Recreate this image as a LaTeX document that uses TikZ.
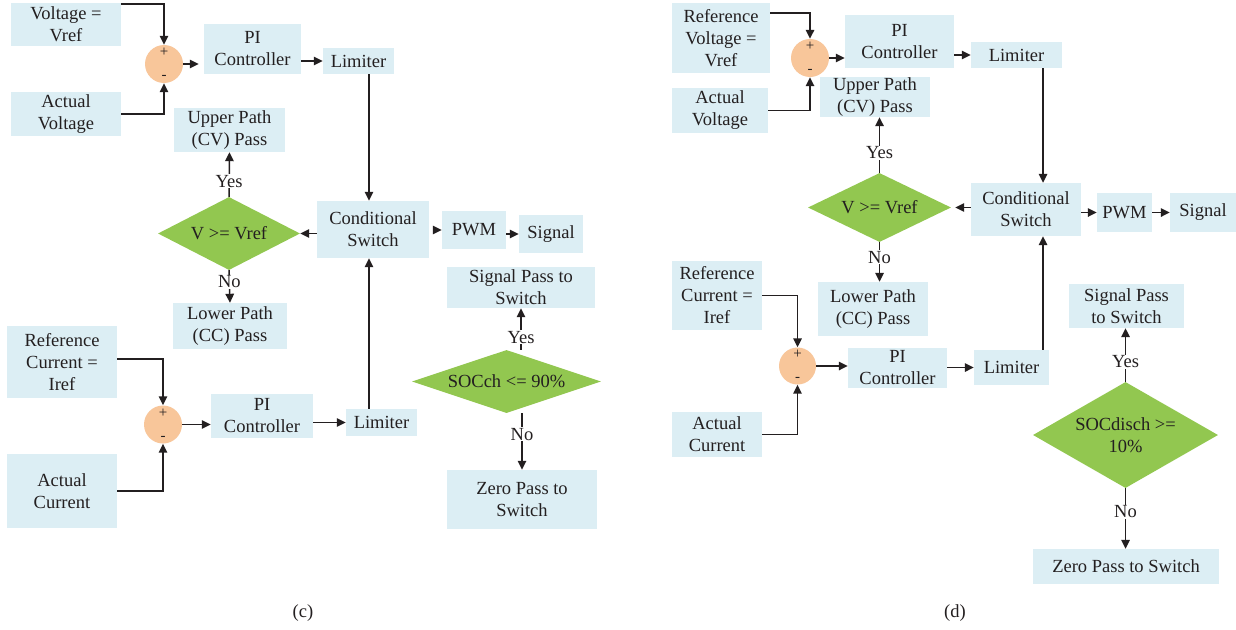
\documentclass[tikz,border=0pt]{standalone}
\usepackage{fontspec}
\setmainfont{Liberation Serif}
\usetikzlibrary{shapes.geometric,arrows.meta}
\definecolor{boxblue}{RGB}{220,238,244}
\definecolor{dgreen}{RGB}{146,199,80}
\definecolor{sumorange}{RGB}{248,198,154}
\definecolor{ink}{RGB}{35,31,32}
\begin{document}
\begin{tikzpicture}[x=1pt,y=-1pt,
  every node/.style={text=ink, font=\fontsize{18.5}{22}\selectfont},
  box/.style={fill=boxblue, inner sep=0pt, align=center},
  dec/.style={diamond, fill=dgreen, inner sep=0pt, align=center},
  sumc/.style={circle, fill=sumorange, inner sep=0pt, minimum size=38pt, align=center, font=\fontsize{15}{23}\selectfont},
  arr/.style={draw=ink, line width=1.5pt, -{Triangle[length=9pt,width=8.5pt]}},
  lab/.style={fill=white, inner sep=1pt}
]
\useasboundingbox[fill=white] (0,0) rectangle (1236,629);

% ---------------- panel (c) ----------------
\node[box, minimum width=110pt, minimum height=43pt] (vref1) at (66,24.5) {Voltage =\\Vref};
\node[sumc] (sum1) at (164,64) {+\\-};
\node[box, minimum width=97pt, minimum height=50pt] (pi1) at (252.5,49) {PI\\Controller};
\node[box, minimum width=71pt, minimum height=26pt] (lim1) at (358.5,61) {Limiter};
\node[box, minimum width=110pt, minimum height=44pt] (av1) at (66,114) {Actual\\Voltage};
\node[box, minimum width=111pt, minimum height=44pt] (up1) at (229.5,130) {Upper Path\\(CV) Pass};
\node[dec, minimum width=142pt, minimum height=73pt, aspect=1.95] (dia1) at (229,233.5) {V >= Vref};
\node[box, minimum width=112pt, minimum height=57pt] (cs1) at (373,229.5) {Conditional\\Switch};
\node[box, minimum width=64pt, minimum height=38pt] (pwm1) at (474,230) {PWM};
\node[box, minimum width=64pt, minimum height=38pt] (sig1) at (551,234) {Signal};
\node[box, minimum width=114pt, minimum height=46pt] (lp1) at (230,326) {Lower Path\\(CC) Pass};
\node[box, minimum width=148pt, minimum height=41pt] (sp1) at (521,287.5) {Signal Pass to\\Switch};
\node[dec, minimum width=189pt, minimum height=63pt, aspect=3] (soc1) at (506.5,381.5) {SOCch <= 90\%};
\node[box, minimum width=150pt, minimum height=59pt] (zp1) at (522,499.5) {Zero Pass to\\Switch};
\node[box, minimum width=110pt, minimum height=72pt] (rc1) at (62,362) {Reference\\Current =\\Iref};
\node[box, minimum width=110pt, minimum height=74pt] (ac1) at (62,491) {Actual\\Current};
\node[sumc] (sum2) at (163,424.5) {+\\-};
\node[box, minimum width=102pt, minimum height=44pt] (pi2) at (262,416) {PI\\Controller};
\node[box, minimum width=71pt, minimum height=27pt] (lim2) at (381.5,422.5) {Limiter};

\coordinate (cs1top) at ([xshift=-4pt]cs1.north);
\coordinate (cs1bot) at ([xshift=-4pt]cs1.south);

\draw[arr] ([yshift=20.5pt]vref1.east) -| (sum1.north);
\draw[arr] (av1.east) -| (sum1.south);
\draw[arr, shorten >=5pt] (sum1.east) -- (sum1.east -| pi1.west);
\draw[arr] (lim1.west -| pi1.east) -- (lim1.west);
\draw[arr] (lim1.south -| cs1top) -- (cs1top);
\draw[arr] (cs1.west |- dia1.east) -- (dia1.east);
\draw[arr, shorten <=5pt] (cs1.east |- pwm1.west) -- (pwm1.west);
\draw[arr] (sig1.west -| pwm1.east) -- (sig1.west);
\draw[arr] (dia1.north) -- node[lab, pos=0.35] {Yes} (up1.south);
\draw[arr] (dia1.south) -- node[lab, pos=0.36] {No} (lp1.north);
\draw[arr] (lim2.north -| cs1bot) -- (cs1bot);
\draw[arr] ([yshift=3pt]rc1.east) -| (sum2.north);
\draw[arr] (ac1.east) -| (sum2.south);
\draw[arr] (sum2.east) -- (sum2.east -| pi2.west);
\draw[arr] (pi2.east |- lim2.west) -- (lim2.west);
\draw[arr] (soc1.north -| sp1.south) -- node[lab, pos=0.3] {Yes} (sp1.south);
\draw[arr] (soc1.south -| zp1.north) -- node[lab, pos=0.37] {No} (zp1.north);

% ---------------- panel (d) ----------------
\node[box, minimum width=98pt, minimum height=70pt] (vref2) at (721,38) {Reference\\Voltage =\\Vref};
\node[sumc] (sum3) at (810,58) {+\\-};
\node[box, minimum width=109pt, minimum height=53pt] (pi3) at (899.5,41.5) {PI\\Controller};
\node[box, minimum width=91pt, minimum height=26pt] (lim3) at (1016.5,55) {Limiter};
\node[box, minimum width=96pt, minimum height=45pt] (av2) at (720,110.5) {Actual\\Voltage};
\node[box, minimum width=110pt, minimum height=40pt] (up2) at (875,97) {Upper Path\\(CV) Pass};
\node[dec, minimum width=143pt, minimum height=69pt, aspect=2.07] (dia2) at (879.5,207.5) {V >= Vref};
\node[box, minimum width=110pt, minimum height=53pt] (cs2) at (1026,209.5) {Conditional\\Switch};
\node[box, minimum width=55pt, minimum height=39pt] (pwm2) at (1124.5,212.5) {PWM};
\node[box, minimum width=66pt, minimum height=39pt] (sig2) at (1203,212.5) {Signal};
\node[box, minimum width=110pt, minimum height=54pt] (lp2) at (873,309) {Lower Path\\(CC) Pass};
\node[box, minimum width=115pt, minimum height=44pt] (sp2) at (1126.5,306) {Signal Pass\\to Switch};
\node[dec, minimum width=185pt, minimum height=106pt, aspect=1.75] (soc2) at (1125.5,435) {SOCdisch >=\\10\%};
\node[box, minimum width=186pt, minimum height=35pt] (zp2) at (1126,566.5) {Zero Pass to Switch};
\node[box, minimum width=90pt, minimum height=69pt] (rc2) at (717,295.5) {Reference\\Current =\\Iref};
\node[box, minimum width=90pt, minimum height=45pt] (ac2) at (717,434.5) {Actual\\Current};
\node[sumc, minimum size=37pt] (sum4) at (797.5,366) {+\\-};
\node[box, minimum width=99pt, minimum height=40pt] (pi4) at (897.5,368) {PI\\Controller};
\node[box, minimum width=75pt, minimum height=35pt] (lim4) at (1011.5,367.5) {Limiter};

\coordinate (cs2top) at ([xshift=17pt]cs2.north);
\coordinate (cs2bot) at ([xshift=17pt]cs2.south);

\draw[arr] ([yshift=25pt]vref2.east) -| (sum3.north);
\draw[arr] (av2.east) -| (sum3.south);
\draw[arr] (sum3.east) -- (sum3.east -| pi3.west);
\draw[arr] (pi3.east |- lim3.west) -- (lim3.west);
\draw[arr] (lim3.south -| cs2top) -- (cs2top);
\draw[arr, shorten >=4pt] (cs2.west |- dia2.east) -- (dia2.east);
\draw[arr] (cs2.east |- pwm2.west) -- (pwm2.west);
\draw[arr] (pwm2.east) -- (sig2.west);
\draw[arr] (dia2.north) -- node[lab, pos=0.36] {Yes} (dia2.north |- up2.south);
\draw[arr] (dia2.south) -- node[lab, pos=0.375] {No} (dia2.south |- lp2.north);
\draw[arr] (lim4.north -| cs2bot) -- (cs2bot);
\draw[arr] (rc2.east) -| (sum4.north);
\draw[arr] (ac2.east) -| (sum4.south);
\draw[arr] (sum4.east) -- (sum4.east -| pi4.west);
\draw[arr] (pi4.east |- lim4.west) -- (lim4.west);
\draw[arr] (soc2.north) -- node[lab, pos=0.37] {Yes} (soc2.north |- sp2.south);
\draw[arr] (soc2.south) -- node[lab, pos=0.39] {No} (soc2.south |- zp2.north);

% ---------------- captions ----------------
\node (capc) at (303,613) {(c)};
\node (capd) at (955,613) {(d)};
\end{tikzpicture}
\end{document}
